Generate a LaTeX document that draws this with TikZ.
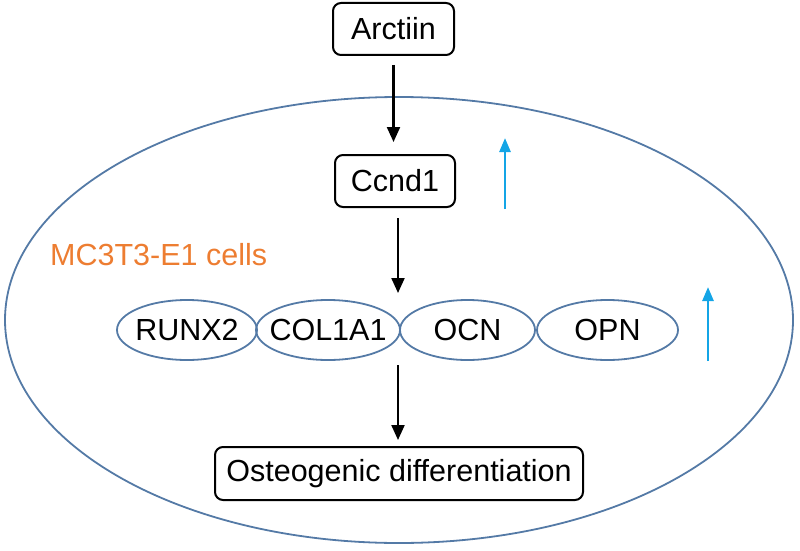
\documentclass[tikz,border=0pt]{standalone}
\usepackage{fontspec}
\setmainfont{Liberation Sans}
\usetikzlibrary{arrows.meta,shapes.geometric}
\definecolor{cellblue}{RGB}{84,122,166}
\definecolor{upblue}{RGB}{20,165,230}
\definecolor{cellorange}{RGB}{237,125,49}
\tikzset{
  rbox/.style={draw=black, line width=2pt, rounded corners=8pt, inner sep=0pt, font=\fontsize{30.5}{34}\selectfont},
  gene/.style={draw=cellblue, line width=1.8pt, ellipse, inner xsep=-20pt, inner ysep=0pt, font=\fontsize{30.5}{34}\selectfont},
  blackarrow/.style={-{Triangle[length=15pt,width=13pt]}, line width=2.2pt},
  uparrow/.style={-{Triangle[length=14pt,width=11pt]}, line width=2.6pt, draw=upblue},
}
\begin{document}
\begin{tikzpicture}[x=1pt,y=-1pt]
\useasboundingbox (0,0) rectangle (800,551);
\node[draw=cellblue, line width=1.8pt, ellipse, minimum width=788pt, minimum height=446pt, inner sep=0pt] (cell) at (399,320) {};
\node[rbox, minimum width=121pt, minimum height=52pt] (arctiin) at (393.5,29) {Arctiin};
\node[rbox, minimum width=120pt, minimum height=52pt] (ccnd1) at (395,181) {Ccnd1};
\node[text=cellorange, font=\fontsize{30.5}{34}\selectfont, anchor=west, inner sep=0pt] (label) at (50,255) {MC3T3-E1 cells};
\node[gene, minimum width=140pt, minimum height=60pt] (runx) at (187,330) {RUNX2};
\node[gene, minimum width=144pt, minimum height=60pt] (col) at (328,330) {COL1A1};
\node[gene, minimum width=135pt, minimum height=60pt] (ocn) at (467.5,330) {OCN};
\node[gene, minimum width=141pt, minimum height=60pt] (opn) at (607.5,330) {OPN};
\node[rbox, minimum width=368pt, minimum height=53pt] (osteo) at (399,473.5) {Osteogenic differentiation};
\coordinate (a1s) at (393.5,65);
\coordinate (a1e) at (393.5,142);
\draw[blackarrow] (a1s) -- (a1e);
\coordinate (a2s) at (398,218);
\coordinate (a2e) at (398,293);
\draw[blackarrow] (a2s) -- (a2e);
\coordinate (a3s) at (398,365);
\coordinate (a3e) at (398,440);
\draw[blackarrow] (a3s) -- (a3e);
\coordinate (u1s) at (505,209);
\coordinate (u1e) at (505,138);
\draw[uparrow] (u1s) -- (u1e);
\coordinate (u2s) at (708,361);
\coordinate (u2e) at (708,287);
\draw[uparrow] (u2s) -- (u2e);
\end{tikzpicture}
\end{document}
